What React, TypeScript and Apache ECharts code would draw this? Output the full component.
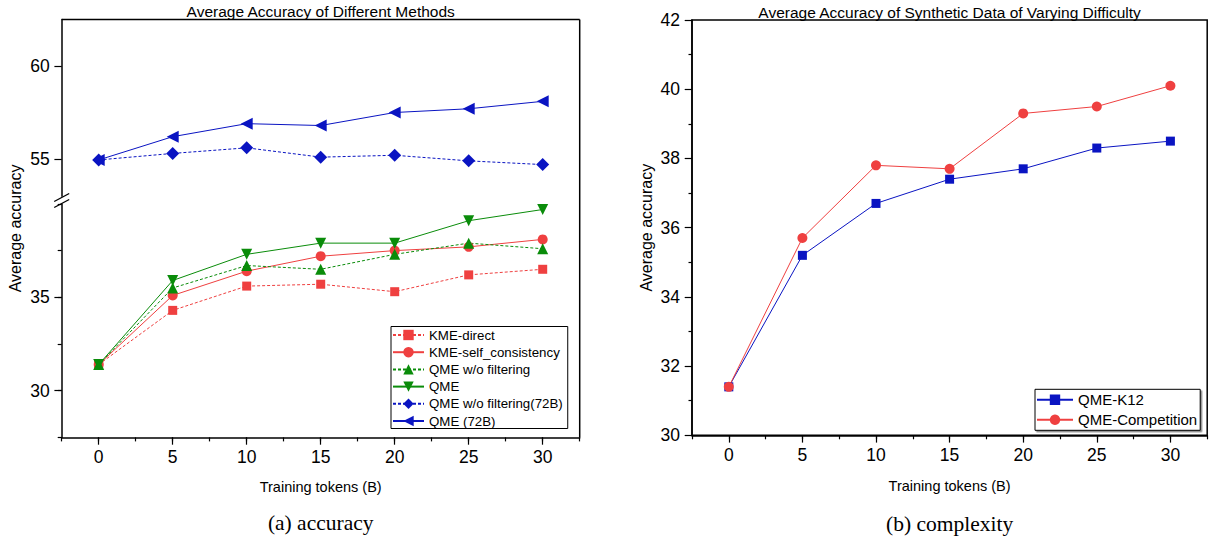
import React, { useEffect, useRef } from 'react';
import * as echarts from 'echarts';

// ---------- data ----------
const tokens = [0, 5, 10, 15, 20, 25, 30];

const kmeDirect = [31.4, 34.3, 35.6, 35.7, 35.3, 36.2, 36.5];
const kmeSelfConsistency = [31.4, 35.1, 36.4, 37.2, 37.5, 37.7, 38.1];
const qmeNoFilter = [31.4, 35.5, 36.7, 36.5, 37.3, 37.9, 37.6];
const qme = [31.4, 35.9, 37.3, 37.9, 37.9, 39.1, 39.7];
const qmeNoFilter72B = [54.95, 55.3, 55.6, 55.1, 55.2, 54.9, 54.7];
const qme72B = [54.95, 56.2, 56.9, 56.8, 57.5, 57.7, 58.1];

const qmeK12 = [31.4, 35.2, 36.7, 37.4, 37.7, 38.3, 38.5];
const qmeCompetition = [31.4, 35.7, 37.8, 37.7, 39.3, 39.5, 40.1];

const xTickLabels = [0, 5, 10, 15, 20, 25, 30];
const leftLowerTickLabels = [30, 35];
const leftUpperTickLabels = [55, 60];

const leftTitle = 'Average Accuracy of Different Methods';
const rightTitle = 'Average Accuracy of Synthetic Data of Varying Difficulty';
const xName = 'Training tokens (B)';
const yName = 'Average accuracy';
const captionA = '(a) accuracy';
const captionB = '(b) complexity';

// ---------- style / layout ----------
const RED = '#EF4040';
const GREEN = '#0A8C0A';
const BLUE = '#0A14C2';
const FONT = '"Liberation Sans", Arial, sans-serif';
const SERIF = '"Liberation Serif", "Times New Roman", serif';

const L = { left: 61.7, right: 579.7, top: 19.5, upperBottom: 196.2, lowerTop: 203.9, bottom: 437.4 };
const R = { left: 692, right: 1207.2, top: 20, bottom: 435.3 };

const pairs = (ys: number[]) => tokens.map((t, i) => [t, ys[i]]);

const axisLineStyle = { show: true, onZero: false, lineStyle: { color: '#000', width: 1.5 } };
const labelStyle = { color: '#000', fontFamily: FONT, fontSize: 17.5 };

function lineSeries(name: string, ys: number[], color: string, dashed: boolean, symbol: string, size: number | number[], xi: number, yi: number, rotate = 0) {
  return {
    name,
    type: 'line',
    xAxisIndex: xi,
    yAxisIndex: yi,
    data: pairs(ys),
    symbol,
    symbolSize: size,
    symbolRotate: rotate,
    showAllSymbol: true,
    lineStyle: { color, width: 1, type: dashed ? [3, 2] : 'solid' },
    itemStyle: { color, borderWidth: 0 },
    emphasis: { disabled: true },
  };
}

export default function App() {
  const ref = useRef<HTMLDivElement>(null);
  useEffect(() => {
    document.body.style.margin = '0';
    const chart = echarts.init(ref.current!, undefined, { renderer: 'svg' });

    const minorX = (grid: number) => ({
      type: 'value', gridIndex: grid, position: 'bottom', min: -2.5, max: 32.5, interval: 2.5,
      axisLine: axisLineStyle,
      axisTick: { show: true, length: 4, lineStyle: { color: '#000', width: 1.2 } },
      axisLabel: { show: false }, splitLine: { show: false },
    });
    const majorX = (grid: number) => ({
      type: 'value', gridIndex: grid, position: 'bottom', min: -2.5, max: 32.5,
      axisLine: { show: false, onZero: false },
      axisTick: { show: true, length: 7.3, customValues: xTickLabels, lineStyle: { color: '#000', width: 1.2 } },
      axisLabel: { ...labelStyle, margin: 11, customValues: xTickLabels },
      splitLine: { show: false },
    });

    chart.setOption({
      animation: false,
      grid: [
        { left: L.left, top: L.top, width: L.right - L.left, height: L.upperBottom - L.top },
        { left: L.left, top: L.lowerTop, width: L.right - L.left, height: L.bottom - L.lowerTop },
        { left: R.left, top: R.top, width: R.right - R.left, height: R.bottom - R.top, show: true, borderColor: '#000', borderWidth: 1.5, backgroundColor: 'transparent' },
      ],
      xAxis: [
        { type: 'value', gridIndex: 0, min: -2.5, max: 32.5, show: false },
        minorX(1),
        majorX(1),
        minorX(2),
        majorX(2),
      ],
      yAxis: [
        {
          type: 'value', gridIndex: 0, position: 'left', min: 53, max: 62.5,
          axisLine: axisLineStyle,
          axisTick: { show: true, length: 7.3, customValues: leftUpperTickLabels, lineStyle: { color: '#000', width: 1.2 } },
          axisLabel: { ...labelStyle, margin: 12, customValues: leftUpperTickLabels },
          splitLine: { show: false },
        },
        {
          type: 'value', gridIndex: 1, position: 'left', min: 27.5, max: 40, interval: 2.5,
          axisLine: axisLineStyle,
          axisTick: { show: true, length: 4, lineStyle: { color: '#000', width: 1.2 } },
          axisLabel: { show: false }, splitLine: { show: false },
        },
        {
          type: 'value', gridIndex: 1, position: 'left', min: 27.5, max: 40,
          axisLine: { show: false, onZero: false },
          axisTick: { show: true, length: 7.3, customValues: leftLowerTickLabels, lineStyle: { color: '#000', width: 1.2 } },
          axisLabel: { ...labelStyle, margin: 12, customValues: leftLowerTickLabels },
          splitLine: { show: false },
        },
        {
          type: 'value', gridIndex: 2, position: 'left', min: 30, max: 42, interval: 2,
          axisLine: axisLineStyle,
          axisTick: { show: true, length: 7.3, lineStyle: { color: '#000', width: 1.2 } },
          minorTick: { show: true, splitNumber: 2, length: 3.5, lineStyle: { color: '#000', width: 1.2 } },
          axisLabel: { ...labelStyle, margin: 12 },
          splitLine: { show: false },
        },
      ],
      legend: [
        {
          data: ['KME-direct', 'KME-self_consistency', 'QME w/o filtering', 'QME', 'QME w/o filtering(72B)', 'QME (72B)'],
          orient: 'vertical', left: 391, top: 326.5,
          itemWidth: 31, itemHeight: 13, itemGap: 4.2,
          padding: [2, 5, 1, 1],
          borderColor: '#000', borderWidth: 1, backgroundColor: '#fff',
          textStyle: { fontFamily: FONT, fontSize: 13.3, color: '#000' },
          selectedMode: false,
        },
        {
          data: ['QME-K12', 'QME-Competition'],
          orient: 'vertical', left: 1035, top: 389.3,
          itemWidth: 36, itemHeight: 13, itemGap: 5,
          padding: [3, 3, 3, 1],
          borderColor: '#000', borderWidth: 1, backgroundColor: '#fff',
          shadowColor: 'rgba(0,0,0,0.45)', shadowOffsetX: 1.5, shadowOffsetY: 1.5, shadowBlur: 0,
          textStyle: { fontFamily: FONT, fontSize: 15, color: '#000' },
          selectedMode: false,
        },
      ],
      series: [
        lineSeries('KME-direct', kmeDirect, RED, true, 'rect', 9, 1, 1),
        lineSeries('KME-self_consistency', kmeSelfConsistency, RED, false, 'circle', 10, 1, 1),
        lineSeries('QME w/o filtering', qmeNoFilter, GREEN, true, 'triangle', 11, 1, 1),
        lineSeries('QME', qme, GREEN, false, 'triangle', 11, 1, 1, 180),
        lineSeries('QME w/o filtering(72B)', qmeNoFilter72B, BLUE, true, 'diamond', 13, 0, 0),
        lineSeries('QME (72B)', qme72B, BLUE, false, 'triangle', 12, 0, 0, 90),
        lineSeries('QME-K12', qmeK12, BLUE, false, 'rect', 9, 3, 3),
        lineSeries('QME-Competition', qmeCompetition, RED, false, 'circle', 10, 3, 3),
      ],
      graphic: [
        // borders of broken left panel
        { type: 'line', shape: { x1: L.left, y1: L.top, x2: L.right, y2: L.top }, style: { stroke: '#000', lineWidth: 1.5 } },
        { type: 'line', shape: { x1: L.right, y1: L.top, x2: L.right, y2: L.bottom }, style: { stroke: '#000', lineWidth: 1.5 } },
        // axis break marks
        { type: 'line', shape: { x1: L.left - 7.5, y1: 201.5, x2: L.left + 7.5, y2: 193.5 }, style: { stroke: '#000', lineWidth: 1.3 } },
        { type: 'line', shape: { x1: L.left - 7.5, y1: 207.5, x2: L.left + 7.5, y2: 199.5 }, style: { stroke: '#000', lineWidth: 1.3 } },
        // titles
        { type: 'text', x: (L.left + L.right) / 2, y: 11.5, style: { text: leftTitle, font: `15.5px ${FONT}`, fill: '#000', align: 'center', verticalAlign: 'middle' } },
        { type: 'text', x: (R.left + R.right) / 2, y: 12, style: { text: rightTitle, font: `15.5px ${FONT}`, fill: '#000', align: 'center', verticalAlign: 'middle' } },
        // axis names
        { type: 'text', x: 15, y: (L.top + L.bottom) / 2, rotation: Math.PI / 2, style: { text: yName, font: `16px ${FONT}`, fill: '#000', align: 'center', verticalAlign: 'middle' } },
        { type: 'text', x: 646.7, y: (R.top + R.bottom) / 2, rotation: Math.PI / 2, style: { text: yName, font: `16px ${FONT}`, fill: '#000', align: 'center', verticalAlign: 'middle' } },
        { type: 'text', x: (L.left + L.right) / 2, y: 487, style: { text: xName, font: `14.5px ${FONT}`, fill: '#000', align: 'center', verticalAlign: 'middle' } },
        { type: 'text', x: (R.left + R.right) / 2, y: 485.7, style: { text: xName, font: `14.5px ${FONT}`, fill: '#000', align: 'center', verticalAlign: 'middle' } },
        // captions
        { type: 'text', x: (L.left + L.right) / 2, y: 523, style: { text: captionA, font: `21.5px ${SERIF}`, fill: '#000', align: 'center', verticalAlign: 'middle' } },
        { type: 'text', x: (R.left + R.right) / 2, y: 524, style: { text: captionB, font: `21.5px ${SERIF}`, fill: '#000', align: 'center', verticalAlign: 'middle' } },
      ],
    });
    return () => chart.dispose();
  }, []);
  return <div ref={ref} style={{ width: 1210, height: 540 }} />;
}
